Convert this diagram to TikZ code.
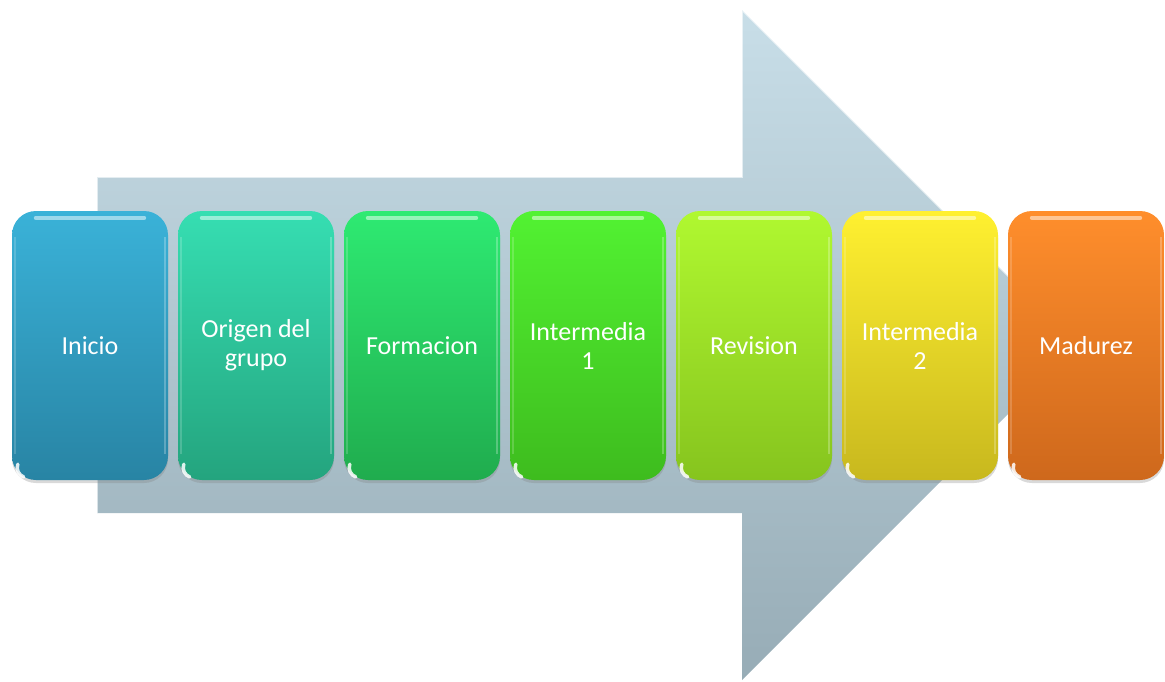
\documentclass[tikz,border=0pt]{standalone}
\usepackage{fontspec}
\setmainfont{Carlito}
\usetikzlibrary{shadows}
\definecolor{arrowtop}{HTML}{C8DEE8}
\definecolor{arrowbot}{HTML}{97ACB6}
\definecolor{cAt}{HTML}{3AB2D8}\definecolor{cAb}{HTML}{2884A4}
\definecolor{cBt}{HTML}{36DEB2}\definecolor{cBb}{HTML}{24A47E}
\definecolor{cCt}{HTML}{2EEA72}\definecolor{cCb}{HTML}{20AC4E}
\definecolor{cDt}{HTML}{52F232}\definecolor{cDb}{HTML}{3EBC1E}
\definecolor{cEt}{HTML}{B0F830}\definecolor{cEb}{HTML}{86C41E}
\definecolor{cFt}{HTML}{FFF030}\definecolor{cFb}{HTML}{C8B81E}
\definecolor{cGt}{HTML}{FF8E2C}\definecolor{cGb}{HTML}{CE681C}
\tikzset{
  stepbox/.style={rounded corners=24pt, minimum width=156pt, minimum height=269pt,
    text=white, align=center, inner sep=0pt,
    font=\fontsize{26}{29}\selectfont,
    drop shadow={opacity=0.3, shadow xshift=0pt, shadow yshift=-3pt}},
  gloss/.style={white, line cap=round, opacity=0.5, line width=4pt},
  corner/.style={white, line cap=round, opacity=0.85, line width=3.5pt}
}
\begin{document}
\begin{tikzpicture}[x=1pt,y=-1pt]
\useasboundingbox (0,0) rectangle (1165,681);
% big arrow
\path[top color=arrowtop, bottom color=arrowbot, shading angle=0]
  (97,177) -- (742,177) -- (742,10) -- (1077,345) -- (742,680) -- (742,513) -- (97,513) -- cycle;
\draw[white, opacity=0.6, line width=1.5pt] (97,513) -- (97,177) -- (742,177) -- (742,10) -- (1077,345);
% boxes
\node[stepbox, top color=cAt, bottom color=cAb] (n1) at (90,345.5) {Inicio};
\node[stepbox, top color=cBt, bottom color=cBb] (n2) at (256,345.5) {Origen del\\grupo};
\node[stepbox, top color=cCt, bottom color=cCb] (n3) at (422,345.5) {Formacion};
\node[stepbox, top color=cDt, bottom color=cDb] (n4) at (588,345.5) {Intermedia\\1};
\node[stepbox, top color=cEt, bottom color=cEb] (n5) at (754,345.5) {Revision};
\node[stepbox, top color=cFt, bottom color=cFb] (n6) at (920,345.5) {Intermedia\\2};
\node[stepbox, top color=cGt, bottom color=cGb] (n7) at (1086,345.5) {Madurez};
% glossy highlights
\foreach \n in {n1,n2,n3,n4,n5,n6,n7}{
  \draw[gloss] ([xshift=24pt,yshift=-7pt]\n.north west) -- ([xshift=-24pt,yshift=-7pt]\n.north east);
  \draw[white, opacity=0.25, line width=2pt] ([xshift=-3pt,yshift=-26pt]\n.north east) -- ([xshift=-3pt,yshift=26pt]\n.south east);
  \draw[white, opacity=0.18, line width=2pt] ([xshift=3pt,yshift=-26pt]\n.north west) -- ([xshift=3pt,yshift=26pt]\n.south west);
  \draw[corner] ([xshift=6pt,yshift=16pt]\n.south west) arc[start angle=160, end angle=250, radius=10pt];
}
\end{tikzpicture}
\end{document}
